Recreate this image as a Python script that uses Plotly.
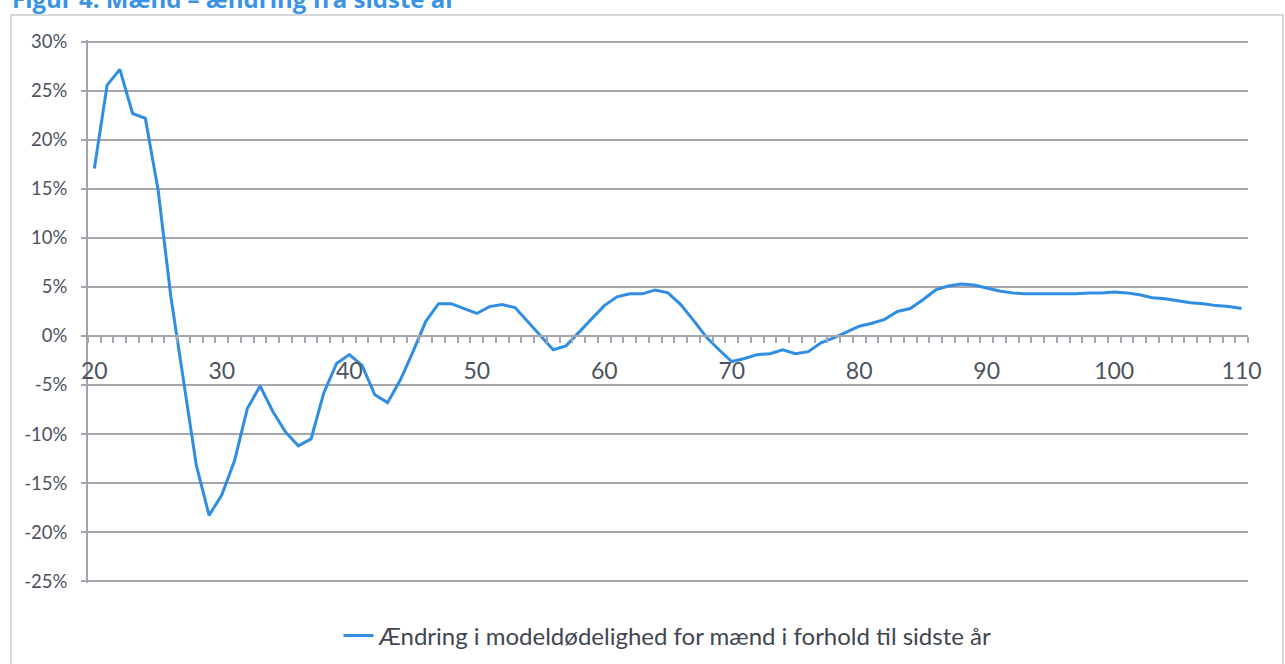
import plotly.graph_objects as go

# Age (x) and change in model mortality for men vs. last year (%)
ages = list(range(20, 111))
change_pct = [
    17.1, 25.6, 27.2, 22.7, 22.2, 14.9, 4.0, -4.8, -13.2, -18.3,   # 20-29
    -16.2, -12.7, -7.4, -5.1, -7.7, -9.8, -11.2, -10.5, -5.8, -2.8,  # 30-39
    -1.9, -3.0, -6.0, -6.8, -4.5, -1.6, 1.5, 3.3, 3.3, 2.8,          # 40-49
    2.3, 3.0, 3.2, 2.9, 1.5, 0.1, -1.4, -1.0, 0.4, 1.8,              # 50-59
    3.1, 4.0, 4.3, 4.3, 4.7, 4.4, 3.2, 1.6, -0.1, -1.4,              # 60-69
    -2.6, -2.3, -1.9, -1.8, -1.4, -1.8, -1.6, -0.7, -0.2, 0.4,       # 70-79
    1.0, 1.3, 1.7, 2.5, 2.8, 3.7, 4.7, 5.1, 5.3, 5.2,                # 80-89
    4.9, 4.6, 4.4, 4.3, 4.3, 4.3, 4.3, 4.3, 4.4, 4.4,                # 90-99
    4.5, 4.4, 4.2, 3.9, 3.8, 3.6, 3.4, 3.3, 3.1, 3.0,                # 100-109
    2.8,                                                             # 110
]

x_tick_vals = list(range(20, 111, 10))
x_tick_text = [str(v) for v in x_tick_vals]
y_tick_vals = list(range(-25, 31, 5))
y_tick_text = [f"{v}%" for v in y_tick_vals]

series_name = "Ændring i modeldødelighed for mænd i forhold til sidste år"
title_text = "Figur 4: Mænd – ændring fra sidste år"

line_color = "#2F8DE2"
grid_color = "#A5A5AE"
label_color = "#4B5360"
font_family = "Lato, 'Open Sans', sans-serif"

y_min, y_max = -25, 30
y_pad = 0.2                      # small headroom so both edge gridlines render
px_per_unit = 9.8
plot_w = 1160
plot_h = round((y_max - y_min + 2 * y_pad) * px_per_unit)
top_m = 42 - round(y_pad * px_per_unit)
bot_m = 664 - top_m - plot_h

fig = go.Figure()
fig.add_trace(go.Scatter(
    x=ages,
    y=change_pct,
    mode="lines",
    name=series_name,
    line=dict(color=line_color, width=3),
))

fig.update_layout(
    width=1285,
    height=664,
    margin=dict(l=88, r=37, t=top_m, b=bot_m, autoexpand=False),
    paper_bgcolor="white",
    plot_bgcolor="white",
    font=dict(family=font_family, color=label_color),
    showlegend=True,
    legend=dict(
        orientation="h",
        x=0.5,
        xanchor="center",
        yref="container",
        y=(664 - 636) / 664,
        yanchor="middle",
        font=dict(size=24, color="#3F4650"),
    ),
    xaxis=dict(
        range=[19.5, 110.5],
        anchor="free",
        position=(0 - (y_min - y_pad)) / (y_max - y_min + 2 * y_pad),
        tickmode="array",
        tickvals=x_tick_vals,
        ticktext=x_tick_text,
        ticks="",
        ticklabelstandoff=14,
        tickfont=dict(size=23, color=label_color),
        showgrid=False,
        zeroline=False,
        showline=True,
        linecolor=grid_color,
        linewidth=2,
        minor=dict(
            tickmode="linear",
            tick0=19.5,
            dtick=1,
            ticks="outside",
            ticklen=6,
            tickwidth=1.5,
            tickcolor=grid_color,
            showgrid=False,
        ),
    ),
    yaxis=dict(
        range=[y_min - y_pad, y_max + y_pad],
        tickmode="array",
        tickvals=y_tick_vals,
        ticktext=y_tick_text,
        ticks="outside",
        ticklen=5,
        tickwidth=1.5,
        tickcolor=grid_color,
        ticklabelstandoff=10,
        tickfont=dict(size=18.5, color=label_color),
        showgrid=True,
        gridcolor=grid_color,
        gridwidth=2,
        zeroline=False,
        showline=True,
        linecolor=grid_color,
        linewidth=2,
    ),
)

# Chart frame border
fig.add_shape(
    type="rect",
    xref="paper", yref="paper",
    x0=-77 / plot_w, x1=1 + 35 / plot_w,
    y0=-(bot_m + 60) / plot_h, y1=1 + (top_m - 15) / plot_h,
    line=dict(color="#C9CBD0", width=1.5),
    fillcolor="rgba(0,0,0,0)",
    layer="below",
)

# Figure caption at the top (partly above the page edge)
fig.add_annotation(
    text=f"<b>{title_text}</b>",
    xref="paper", yref="paper",
    x=-78 / plot_w, xanchor="left",
    y=1 + (top_m - 17) / plot_h, yanchor="bottom",
    showarrow=False,
    font=dict(size=24, color="#3B93E3", family="'Open Sans', Lato, sans-serif"),
)

fig.write_html("out.html")
